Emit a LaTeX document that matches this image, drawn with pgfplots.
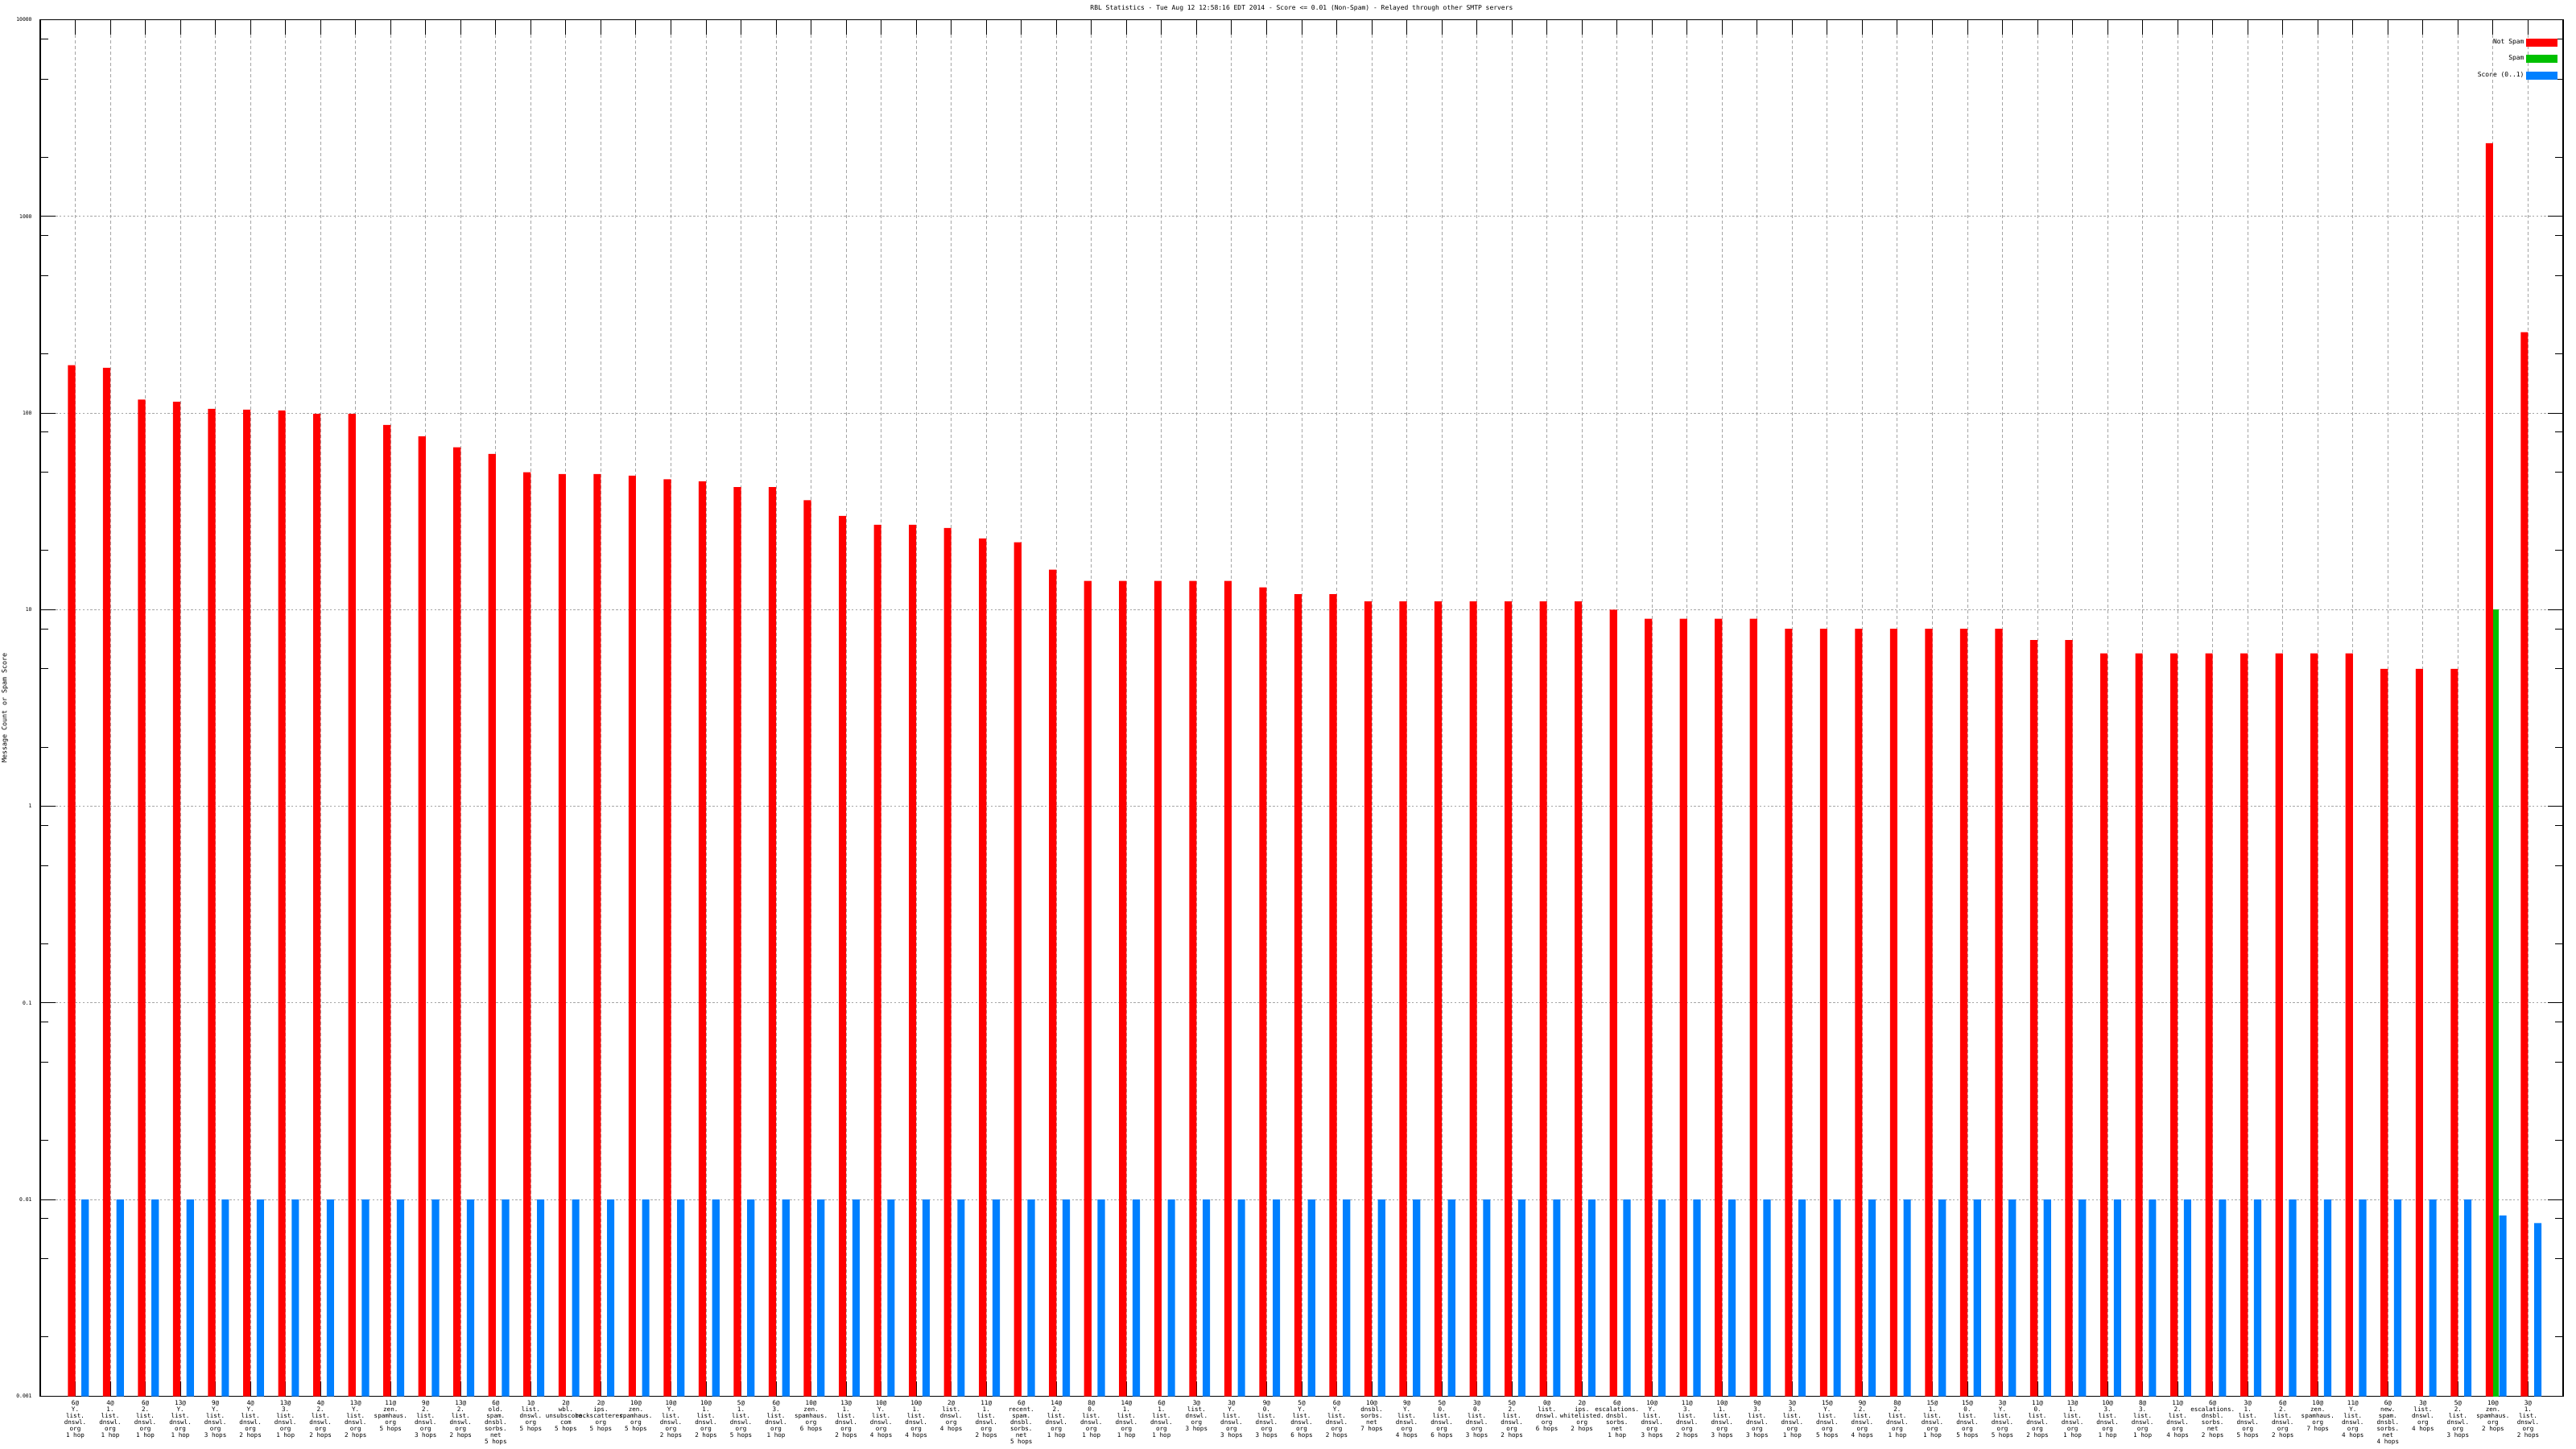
\documentclass[border=0pt]{standalone}
\usepackage{pgfplots}
\pgfplotsset{compat=1.18}
\usepackage{pgfplotstable}
\usepackage{fontspec}
\setmainfont{DejaVu Sans Mono}
\definecolor{nsred}{RGB}{255,0,0}
\definecolor{spgreen}{RGB}{0,192,0}
\definecolor{scblue}{RGB}{0,128,255}
\definecolor{gridgray}{RGB}{165,165,165}

\pgfplotstableread{
x ns sc
0 175 0.01
1 170 0.01
2 117 0.01
3 114 0.01
4 105 0.01
5 104 0.01
6 103 0.01
7 99 0.01
8 99 0.01
9 87 0.01
10 76 0.01
11 67 0.01
12 62 0.01
13 50 0.01
14 49 0.01
15 49 0.01
16 48 0.01
17 46 0.01
18 45 0.01
19 42 0.01
20 42 0.01
21 36 0.01
22 30 0.01
23 27 0.01
24 27 0.01
25 26 0.01
26 23 0.01
27 22 0.01
28 16 0.01
29 14 0.01
30 14 0.01
31 14 0.01
32 14 0.01
33 14 0.01
34 13 0.01
35 12 0.01
36 12 0.01
37 11 0.01
38 11 0.01
39 11 0.01
40 11 0.01
41 11 0.01
42 11 0.01
43 11 0.01
44 10 0.01
45 9 0.01
46 9 0.01
47 9 0.01
48 9 0.01
49 8 0.01
50 8 0.01
51 8 0.01
52 8 0.01
53 8 0.01
54 8 0.01
55 8 0.01
56 7 0.01
57 7 0.01
58 6 0.01
59 6 0.01
60 6 0.01
61 6 0.01
62 6 0.01
63 6 0.01
64 6 0.01
65 6 0.01
66 5 0.01
67 5 0.01
68 5 0.01
69 2355 0.0083
70 258 0.0076
}\data

\pgfplotstableread{
x sp
69 10
}\spam

\pgfplotsset{
  mybar/.style={ybar, draw=none, fill=#1,
    legend image code/.code={\fill[#1] (0pt,-2.5pt) rectangle (19.5pt,2.5pt);}},
}

\begin{document}
\begin{tikzpicture}
\path[use as bounding box] (-25pt,-32.5pt) rectangle (1575pt,867.25pt);
\begin{axis}[
  at={(0pt,0pt)}, anchor=south west,
  scale only axis, width=1567pt, height=855pt,
  ymode=log, log origin y=infty,
  ymin=0.001, ymax=10000,
  xmin=-1, xmax=70.999,
  axis line style={line width=0.6pt},
  tick align=inside,
  major tick length=9.5pt, minor tick length=5pt,
  tick style={line width=0.5pt, black},
  ytick={0.001,0.01,0.1,1,10,100,1000,10000},
  yticklabels={0.001,0.01,0.1,1,10,100,1000,10000},
  minor ytick={0.002,0.005,0.008,0.02,0.05,0.08,0.2,0.5,0.8,2,5,8,20,50,80,200,500,800,2000,5000,8000},
  yticklabel style={font=\fontsize{3.2}{3.8}\selectfont, inner sep=0pt, xshift=-5pt},
  xtick={0,...,70},
  xticklabel style={font=\fontsize{3.8}{4}\selectfont, align=center, inner sep=0pt, yshift=-2.5pt},
  xticklabels={
{6@\\Y.\\list.\\dnswl.\\org\\1 hop},
{4@\\1.\\list.\\dnswl.\\org\\1 hop},
{6@\\2.\\list.\\dnswl.\\org\\1 hop},
{13@\\Y.\\list.\\dnswl.\\org\\1 hop},
{9@\\Y.\\list.\\dnswl.\\org\\3 hops},
{4@\\Y.\\list.\\dnswl.\\org\\2 hops},
{13@\\3.\\list.\\dnswl.\\org\\1 hop},
{4@\\2.\\list.\\dnswl.\\org\\2 hops},
{13@\\Y.\\list.\\dnswl.\\org\\2 hops},
{11@\\zen.\\spamhaus.\\org\\5 hops},
{9@\\2.\\list.\\dnswl.\\org\\3 hops},
{13@\\2.\\list.\\dnswl.\\org\\2 hops},
{6@\\old.\\spam.\\dnsbl.\\sorbs.\\net\\5 hops},
{1@\\list.\\dnswl.\\org\\5 hops},
{2@\\wbl.\\unsubscore.\\com\\5 hops},
{2@\\ips.\\backscatterer.\\org\\5 hops},
{10@\\zen.\\spamhaus.\\org\\5 hops},
{10@\\Y.\\list.\\dnswl.\\org\\2 hops},
{10@\\1.\\list.\\dnswl.\\org\\2 hops},
{5@\\1.\\list.\\dnswl.\\org\\5 hops},
{6@\\3.\\list.\\dnswl.\\org\\1 hop},
{10@\\zen.\\spamhaus.\\org\\6 hops},
{13@\\1.\\list.\\dnswl.\\org\\2 hops},
{10@\\Y.\\list.\\dnswl.\\org\\4 hops},
{10@\\1.\\list.\\dnswl.\\org\\4 hops},
{2@\\list.\\dnswl.\\org\\4 hops},
{11@\\1.\\list.\\dnswl.\\org\\2 hops},
{6@\\recent.\\spam.\\dnsbl.\\sorbs.\\net\\5 hops},
{14@\\2.\\list.\\dnswl.\\org\\1 hop},
{8@\\0.\\list.\\dnswl.\\org\\1 hop},
{14@\\1.\\list.\\dnswl.\\org\\1 hop},
{6@\\1.\\list.\\dnswl.\\org\\1 hop},
{3@\\list.\\dnswl.\\org\\3 hops},
{3@\\Y.\\list.\\dnswl.\\org\\3 hops},
{9@\\0.\\list.\\dnswl.\\org\\3 hops},
{5@\\Y.\\list.\\dnswl.\\org\\6 hops},
{6@\\Y.\\list.\\dnswl.\\org\\2 hops},
{10@\\dnsbl.\\sorbs.\\net\\7 hops},
{9@\\Y.\\list.\\dnswl.\\org\\4 hops},
{5@\\0.\\list.\\dnswl.\\org\\6 hops},
{3@\\0.\\list.\\dnswl.\\org\\3 hops},
{5@\\2.\\list.\\dnswl.\\org\\2 hops},
{0@\\list.\\dnswl.\\org\\6 hops},
{2@\\ips.\\whitelisted.\\org\\2 hops},
{6@\\escalations.\\dnsbl.\\sorbs.\\net\\1 hop},
{10@\\Y.\\list.\\dnswl.\\org\\3 hops},
{11@\\3.\\list.\\dnswl.\\org\\2 hops},
{10@\\1.\\list.\\dnswl.\\org\\3 hops},
{9@\\3.\\list.\\dnswl.\\org\\3 hops},
{3@\\3.\\list.\\dnswl.\\org\\1 hop},
{15@\\Y.\\list.\\dnswl.\\org\\5 hops},
{9@\\2.\\list.\\dnswl.\\org\\4 hops},
{8@\\2.\\list.\\dnswl.\\org\\1 hop},
{15@\\1.\\list.\\dnswl.\\org\\1 hop},
{15@\\0.\\list.\\dnswl.\\org\\5 hops},
{3@\\Y.\\list.\\dnswl.\\org\\5 hops},
{11@\\0.\\list.\\dnswl.\\org\\2 hops},
{13@\\1.\\list.\\dnswl.\\org\\1 hop},
{10@\\3.\\list.\\dnswl.\\org\\1 hop},
{8@\\3.\\list.\\dnswl.\\org\\1 hop},
{11@\\2.\\list.\\dnswl.\\org\\4 hops},
{6@\\escalations.\\dnsbl.\\sorbs.\\net\\2 hops},
{3@\\1.\\list.\\dnswl.\\org\\5 hops},
{6@\\2.\\list.\\dnswl.\\org\\2 hops},
{10@\\zen.\\spamhaus.\\org\\7 hops},
{11@\\Y.\\list.\\dnswl.\\org\\4 hops},
{6@\\new.\\spam.\\dnsbl.\\sorbs.\\net\\4 hops},
{3@\\list.\\dnswl.\\org\\4 hops},
{5@\\2.\\list.\\dnswl.\\org\\3 hops},
{10@\\zen.\\spamhaus.\\org\\2 hops},
{3@\\1.\\list.\\dnswl.\\org\\2 hops}
  },
  xmajorgrids, ymajorgrids,
  x grid style={gridgray, line width=0.5pt, dash pattern=on 2pt off 1.5pt},
  y grid style={gridgray, line width=0.5pt, dash pattern=on 1.2pt off 1.2pt},
  every axis title shift=0pt,
  title={RBL Statistics - Tue Aug 12 12:58:16 EDT 2014 - Score <= 0.01 (Non-Spam) - Relayed through other SMTP servers},
  title style={at={(axis description cs:0.5,1)}, anchor=center, yshift=7.25pt, font=\fontsize{4}{4.8}\selectfont},
  ylabel={Message Count or Spam Score},
  every axis y label/.style={at={(axis description cs:-0.0140,0.5)}, rotate=90, anchor=center, font=\fontsize{4.2}{5}\selectfont},
  legend plot pos=right,
  legend cell align=right,
  legend style={at={(axis description cs:1,1)}, anchor=north east, xshift=-3.3pt, yshift=-10.5pt,
    draw=none, fill=none, inner sep=0pt, row sep=3.5pt, column sep=0pt,
    nodes={inner sep=1.2pt}, font=\fontsize{4}{4.8}\selectfont},
]
\addplot[mybar=nsred, bar width=0.21, bar shift=-0.105] table[x=x, y=ns] {\data};
\addlegendentry{Not Spam}
\addplot[mybar=spgreen, bar width=0.17, bar shift=0.085] table[x=x, y=sp] {\spam};
\addlegendentry{Spam}
\addplot[mybar=scblue, bar width=0.21, bar shift=0.28] table[x=x, y=sc] {\data};
\addlegendentry{Score (0..1)}
\end{axis}
\end{tikzpicture}
\end{document}
